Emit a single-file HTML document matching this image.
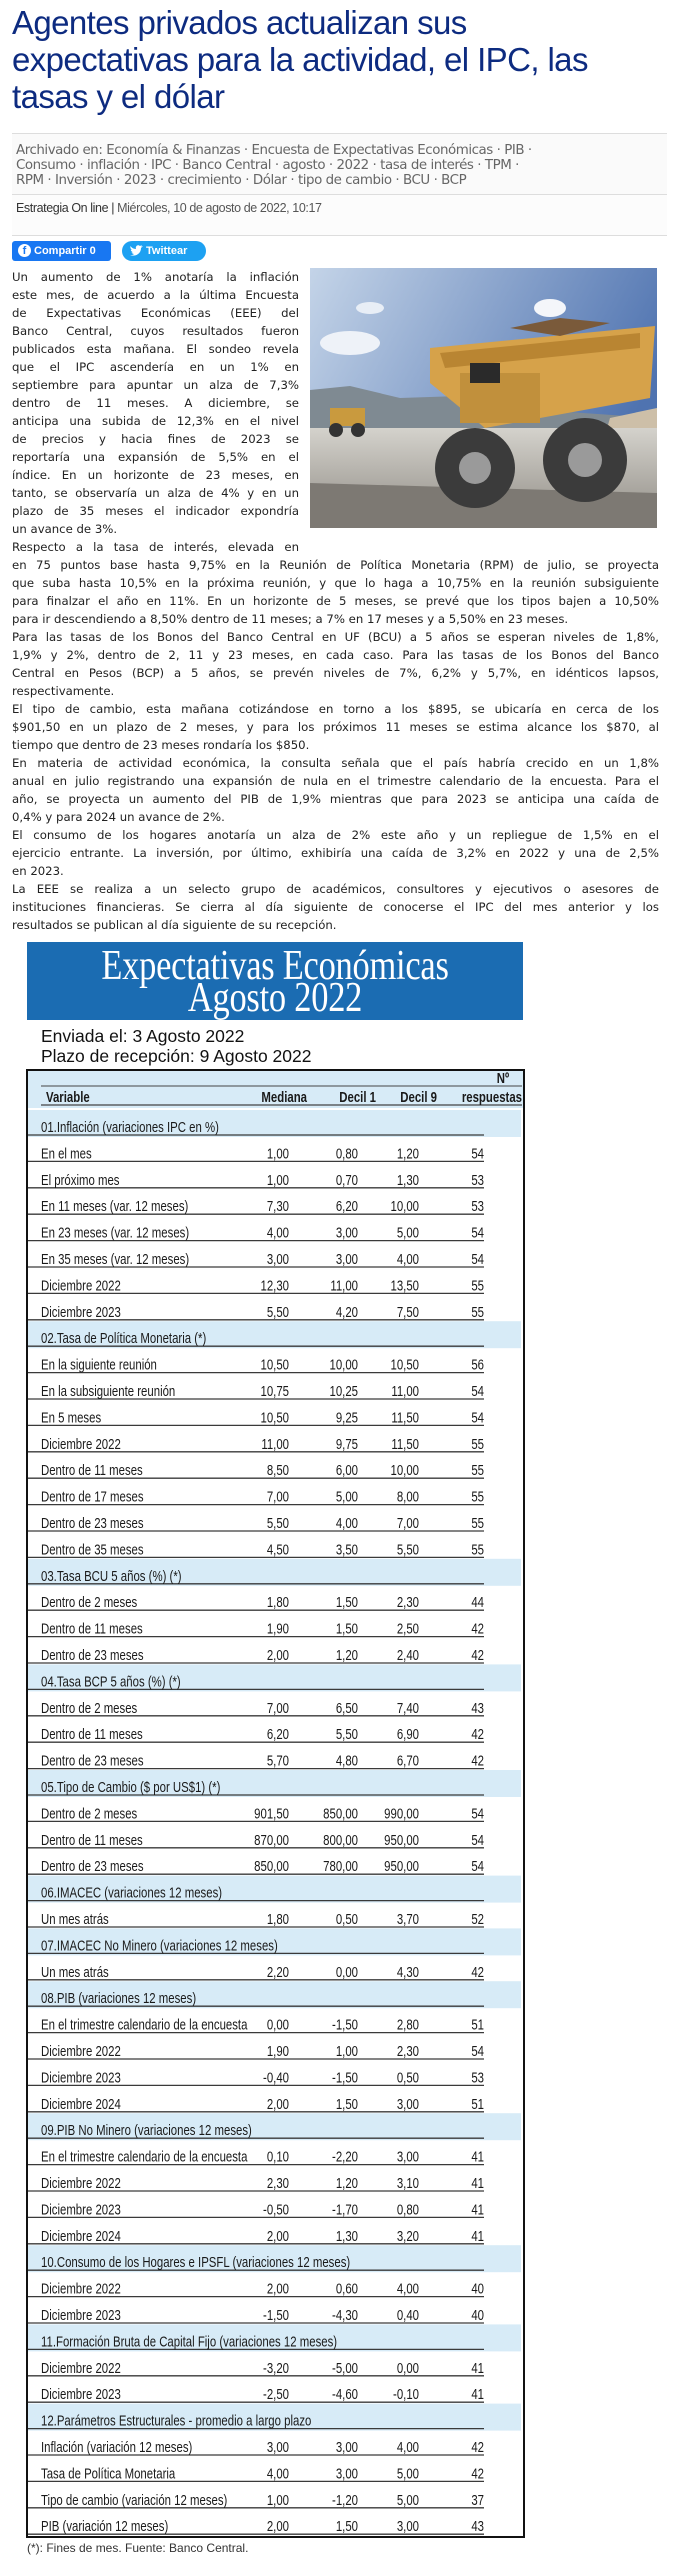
<!DOCTYPE html>
<html><head><meta charset="utf-8">
<style>
*{margin:0;padding:0;box-sizing:border-box}
body{width:679px;height:2569px;background:#fff;position:relative;overflow:hidden;font-family:"DejaVu Sans","Liberation Sans",sans-serif}
.abs{position:absolute}
#title{left:12px;top:4px;font-family:"Liberation Sans",sans-serif;font-size:33px;line-height:37px;color:#0d2b80;letter-spacing:-0.6px}
.hr{position:absolute;left:12px;width:655px;height:1px;background:#ddd}
#tags{left:12px;top:134px;width:655px;height:60px;background:#fafafa;padding:9px 4px;font-family:"DejaVu Sans",sans-serif;font-size:13.4px;line-height:15px;color:#666;letter-spacing:-0.45px}
#meta{left:12px;top:195px;width:655px;height:40px;background:#fcfcfc;padding:6px 4px;font-family:"Liberation Sans",sans-serif;font-size:12.5px;color:#555;letter-spacing:-0.4px}
#meta b{font-weight:normal;color:#333}
.btn{position:absolute;top:241px;height:20px;color:#fff;font-family:"Liberation Sans",sans-serif;font-weight:bold;font-size:11px;line-height:20px;padding-left:22px}
.ln{position:absolute;left:12px;height:18px;line-height:18px;font-size:11.7px;color:#222;text-align:justify;text-align-last:justify;white-space:normal;overflow:visible}
.ln.l{text-align-last:left}
#banner{left:27px;top:942px;width:496px;height:78px;background:#1b6cb2;color:#fff;overflow:hidden}
#banner div{position:absolute;left:0;width:496px;text-align:center;font-family:"Liberation Serif",serif;font-size:42px;line-height:36px;transform:scaleX(0.82);letter-spacing:-0.3px}
.sub{font-family:"Liberation Sans",sans-serif;font-size:17.5px;color:#111;left:41px}
</style></head><body>
<div id="title" class="abs">Agentes privados actualizan sus<br>expectativas para la actividad, el IPC, las<br>tasas y el dólar</div>
<div class="hr" style="top:133px"></div>
<div id="tags" class="abs">Archivado en: Economía &amp; Finanzas · Encuesta de Expectativas Económicas · PIB ·<br>Consumo · inflación · IPC · Banco Central · agosto · 2022 · tasa de interés · TPM ·<br>RPM · Inversión · 2023 · crecimiento · Dólar · tipo de cambio · BCU · BCP</div>
<div class="hr" style="top:194px"></div>
<div id="meta" class="abs"><b>Estrategia On line |</b> Miércoles, 10 de agosto de 2022, 10:17</div>
<div class="hr" style="top:235px"></div>
<div class="btn" style="left:12px;width:99px;background:#1877f2;border-radius:3px"><span style="position:absolute;left:6px;top:3px;width:13px;height:13px;border-radius:50%;background:#fff;color:#1877f2;font-size:11px;line-height:14px;text-align:center">f</span>Compartir 0</div>
<div class="btn" style="left:122px;width:84px;background:#1da1f2;border-radius:10px;padding-left:24px"><svg style="position:absolute;left:8px;top:4px" width="13" height="12" viewBox="0 0 13 12"><path d="M0 10 C5 12 11 9 11 3 L13 1 L11 1.5 L12 0 L10 1 C8 -1 5 1 6 4 C3 4 1 2 0.5 1 C0 3 1 4.5 2 5 L0.8 4.8 C1 6.5 2.5 7 3 7.3 L1.5 7.4 C2 8.5 3.5 9 4 9 C3 10 1.5 10.2 0 10Z" fill="#fff"/></svg>Twittear</div>

<svg class="abs" style="left:310px;top:268px" width="347" height="260">
<defs><linearGradient id="sky" x1="0" y1="0" x2="1" y2="0.4"><stop offset="0" stop-color="#c4d4e8"/><stop offset="1" stop-color="#4f73b0"/></linearGradient>
<linearGradient id="gr" x1="0" y1="0" x2="0" y2="1"><stop offset="0" stop-color="#d4d2cc"/><stop offset="1" stop-color="#8f8b84"/></linearGradient></defs>
<rect width="347" height="260" fill="url(#sky)"/>
<ellipse cx="40" cy="75" rx="30" ry="12" fill="#eef2f8"/><ellipse cx="240" cy="40" rx="16" ry="9" fill="#f4f6fa"/><ellipse cx="60" cy="40" rx="14" ry="6" fill="#e8eef6"/>
<path d="M0 122 L40 118 L90 130 L150 128 L200 140 L347 150 L347 170 L0 170Z" fill="#7f8a92"/>
<path d="M300 150 L347 140 L347 190 L290 185Z" fill="#cdbfa8"/>
<rect y="160" width="347" height="100" fill="url(#gr)"/>
<path d="M0 215 L347 225 L347 260 L0 260Z" fill="#7d7973"/>
<rect x="20" y="140" width="35" height="18" fill="#c99a3e"/><circle cx="26" cy="162" r="7" fill="#333"/><circle cx="48" cy="162" r="7" fill="#333"/>
<path d="M120 80 L345 58 L340 130 L175 160 L120 115Z" fill="#d6a24a"/>
<path d="M130 85 L330 65 L330 80 L135 100Z" fill="#b98532"/>
<path d="M200 60 L250 50 L300 55 L250 68Z" fill="#7a5a3a"/>
<rect x="150" y="105" width="80" height="50" fill="#c1903c"/>
<rect x="160" y="95" width="30" height="20" fill="#2a2a2a"/>
<circle cx="165" cy="200" r="40" fill="#3b3b3b"/><circle cx="165" cy="200" r="16" fill="#9a9a9a"/>
<circle cx="275" cy="192" r="42" fill="#3b3b3b"/><circle cx="275" cy="192" r="17" fill="#9a9a9a"/>
</svg>

<div id="article">
<div class="ln" style="top:268px;width:287px">Un aumento de 1% anotaría la inflación</div>
<div class="ln" style="top:286px;width:287px">este mes, de acuerdo a la última Encuesta</div>
<div class="ln" style="top:304px;width:287px">de Expectativas Económicas (EEE) del</div>
<div class="ln" style="top:322px;width:287px">Banco Central, cuyos resultados fueron</div>
<div class="ln" style="top:340px;width:287px">publicados esta mañana. El sondeo revela</div>
<div class="ln" style="top:358px;width:287px">que el IPC ascendería en un 1% en</div>
<div class="ln" style="top:376px;width:287px">septiembre para apuntar un alza de 7,3%</div>
<div class="ln" style="top:394px;width:287px">dentro de 11 meses. A diciembre, se</div>
<div class="ln" style="top:412px;width:287px">anticipa una subida de 12,3% en el nivel</div>
<div class="ln" style="top:430px;width:287px">de precios y hacia fines de 2023 se</div>
<div class="ln" style="top:448px;width:287px">reportaría una expansión de 5,5% en el</div>
<div class="ln" style="top:466px;width:287px">índice. En un horizonte de 23 meses, en</div>
<div class="ln" style="top:484px;width:287px">tanto, se observaría un alza de 4% y en un</div>
<div class="ln" style="top:502px;width:287px">plazo de 35 meses el indicador expondría</div>
<div class="ln l" style="top:520px;width:287px">un avance de 3%.</div>
<div class="ln" style="top:538px;width:287px">Respecto a la tasa de interés, elevada en</div>
<div class="ln" style="top:556px;width:647px">en 75 puntos base hasta 9,75% en la Reunión de Política Monetaria (RPM) de julio, se proyecta</div>
<div class="ln" style="top:574px;width:647px">que suba hasta 10,5% en la próxima reunión, y que lo haga a 10,75% en la reunión subsiguiente</div>
<div class="ln" style="top:592px;width:647px">para finalzar el año en 11%. En un horizonte de 5 meses, se prevé que los tipos bajen a 10,50%</div>
<div class="ln l" style="top:610px;width:647px">para ir descendiendo a 8,50% dentro de 11 meses; a 7% en 17 meses y a 5,50% en 23 meses.</div>
<div class="ln" style="top:628px;width:647px">Para las tasas de los Bonos del Banco Central en UF (BCU) a 5 años se esperan niveles de 1,8%,</div>
<div class="ln" style="top:646px;width:647px">1,9% y 2%, dentro de 2, 11 y 23 meses, en cada caso. Para las tasas de los Bonos del Banco</div>
<div class="ln" style="top:664px;width:647px">Central en Pesos (BCP) a 5 años, se prevén niveles de 7%, 6,2% y 5,7%, en idénticos lapsos,</div>
<div class="ln l" style="top:682px;width:647px">respectivamente.</div>
<div class="ln" style="top:700px;width:647px">El tipo de cambio, esta mañana cotizándose en torno a los $895, se ubicaría en cerca de los</div>
<div class="ln" style="top:718px;width:647px">$901,50 en un plazo de 2 meses, y para los próximos 11 meses se estima alcance los $870, al</div>
<div class="ln l" style="top:736px;width:647px">tiempo que dentro de 23 meses rondaría los $850.</div>
<div class="ln" style="top:754px;width:647px">En materia de actividad económica, la consulta señala que el país habría crecido en un 1,8%</div>
<div class="ln" style="top:772px;width:647px">anual en julio registrando una expansión de nula en el trimestre calendario de la encuesta. Para el</div>
<div class="ln" style="top:790px;width:647px">año, se proyecta un aumento del PIB de 1,9% mientras que para 2023 se anticipa una caída de</div>
<div class="ln l" style="top:808px;width:647px">0,4% y para 2024 un avance de 2%.</div>
<div class="ln" style="top:826px;width:647px">El consumo de los hogares anotaría un alza de 2% este año y un repliegue de 1,5% en el</div>
<div class="ln" style="top:844px;width:647px">ejercicio entrante. La inversión, por último, exhibiría una caída de 3,2% en 2022 y una de 2,5%</div>
<div class="ln l" style="top:862px;width:647px">en 2023.</div>
<div class="ln" style="top:880px;width:647px">La EEE se realiza a un selecto grupo de académicos, consultores y ejecutivos o asesores de</div>
<div class="ln" style="top:898px;width:647px">instituciones financieras. Se cierra al día siguiente de conocerse el IPC del mes anterior y los</div>
<div class="ln l" style="top:916px;width:647px">resultados se publican al día siguiente de su recepción.</div>
</div>

<div id="banner" class="abs"><div style="top:6px">Expectativas Económicas</div><div style="top:38px">Agosto 2022</div></div>
<div class="abs sub" style="top:1026px">Enviada el: 3 Agosto 2022</div>
<div class="abs sub" style="top:1046px">Plazo de recepción: 9 Agosto 2022</div>

<svg id="tbl" class="abs" style="left:0;top:0" width="679" height="2569"></svg>

<script>
const labels=["01.Inflación (variaciones IPC en %)","En el mes","El próximo mes","En 11 meses (var. 12 meses)","En 23 meses (var. 12 meses)","En 35 meses (var. 12 meses)","Diciembre 2022","Diciembre 2023",
"02.Tasa de Política Monetaria  (*)","En la siguiente reunión","En la subsiguiente reunión","En 5 meses","Diciembre 2022","Dentro de 11 meses","Dentro de 17 meses","Dentro de 23 meses","Dentro de 35 meses",
"03.Tasa BCU 5 años  (%)  (*)","Dentro de 2 meses","Dentro de 11 meses","Dentro de 23 meses",
"04.Tasa BCP 5 años  (%) (*)","Dentro de 2 meses","Dentro de 11 meses","Dentro de 23 meses",
"05.Tipo de Cambio  ($ por US$1) (*)","Dentro de 2 meses","Dentro de 11 meses","Dentro de 23 meses",
"06.IMACEC  (variaciones 12 meses)","Un mes atrás",
"07.IMACEC No Minero (variaciones 12 meses)","Un mes atrás",
"08.PIB  (variaciones 12 meses)","En el trimestre calendario de la encuesta","Diciembre 2022","Diciembre 2023","Diciembre 2024",
"09.PIB No Minero (variaciones 12 meses)","En el trimestre calendario de la encuesta","Diciembre 2022","Diciembre 2023","Diciembre 2024",
"10.Consumo de los Hogares e IPSFL  (variaciones 12 meses)","Diciembre 2022","Diciembre 2023",
"11.Formación Bruta de Capital Fijo  (variaciones 12 meses)","Diciembre 2022","Diciembre 2023",
"12.Parámetros Estructurales - promedio a largo plazo","Inflación (variación 12 meses)","Tasa de Política Monetaria","Tipo de cambio (variación 12 meses)","PIB (variación 12 meses)"];
const mediana=[null,"1,00","1,00","7,30","4,00","3,00","12,30","5,50",
null,"10,50","10,75","10,50","11,00","8,50","7,00","5,50","4,50",
null,"1,80","1,90","2,00",null,"7,00","6,20","5,70",null,"901,50","870,00","850,00",
null,"1,80",null,"2,20",null,"0,00","1,90","-0,40","2,00",null,"0,10","2,30","-0,50","2,00",
null,"2,00","-1,50",null,"-3,20","-2,50",null,"3,00","4,00","1,00","2,00"];
const decil1=[null,"0,80","0,70","6,20","3,00","3,00","11,00","4,20",
null,"10,00","10,25","9,25","9,75","6,00","5,00","4,00","3,50",
null,"1,50","1,50","1,20",null,"6,50","5,50","4,80",null,"850,00","800,00","780,00",
null,"0,50",null,"0,00",null,"-1,50","1,00","-1,50","1,50",null,"-2,20","1,20","-1,70","1,30",
null,"0,60","-4,30",null,"-5,00","-4,60",null,"3,00","3,00","-1,20","1,50"];
const decil9=[null,"1,20","1,30","10,00","5,00","4,00","13,50","7,50",
null,"10,50","11,00","11,50","11,50","10,00","8,00","7,00","5,50",
null,"2,30","2,50","2,40",null,"7,40","6,90","6,70",null,"990,00","950,00","950,00",
null,"3,70",null,"4,30",null,"2,80","2,30","0,50","3,00",null,"3,00","3,10","0,80","3,20",
null,"4,00","0,40",null,"0,00","-0,10",null,"4,00","5,00","5,00","3,00"];
const respuestas=[null,54,53,53,54,54,55,55,null,56,54,54,55,55,55,55,55,null,44,42,42,null,43,42,42,null,54,54,54,
null,52,null,42,null,51,54,53,51,null,41,41,41,41,null,40,40,null,41,41,null,42,42,37,43];

const NS="http://www.w3.org/2000/svg";
const svg=document.getElementById('tbl');
const FONT='"Liberation Sans",sans-serif';
const SX=0.76;
const top0=1070,bottom=2537,left=27,right=524,first=1135,pitch=26.4;
const rowY=i=>first+i*pitch;
const colX={med:289,d1:358,d9:419,n:484};
function mk(tag,attrs){const e=document.createElementNS(NS,tag);for(const k in attrs)e.setAttribute(k,attrs[k]);svg.appendChild(e);return e;}
function txt(x,y,s,anchor,bold,size){const t=mk('text',{x:0,y:0,transform:'translate('+x+','+y+') scale('+SX+',1)','text-anchor':anchor,'font-family':FONT,'font-size':size||14,'fill':'#1a1a1a','font-weight':bold?'bold':'normal'});t.textContent=s;return t;}
const hb=mk('rect',{x:left,y:top0,width:right-left,height:38,fill:'#d7ebf7'});


const hl1=mk('line',{x1:41,x2:522,y1:1086,y2:1086,stroke:'#444','stroke-width':1});


const hl2=mk('line',{x1:41,x2:522,y1:1105,y2:1105,stroke:'#444','stroke-width':1.3});


const heads=[["Variable",46,'start'],["Mediana",307,'end'],["Decil 1",376,'end'],["Decil 9",437,'end'],["respuestas",522,'end']];
heads.forEach(h=>{const t=txt(h[1],1102,h[0],h[2],true,15);

});
const nt=txt(503,1083,"Nº",'middle',true,15);


labels.forEach((lab,i)=>{
  const y=rowY(i);const isSec=mediana[i]===null;
  if(isSec){const b=mk('rect',{x:28,y:y-25,width:493,height:27,fill:'#d7ebf7'});
    
    }
  const l=mk('line',{x1:28,x2:484,y1:y,y2:y,stroke:'#3a3a3a','stroke-width':1.3});
  
  
  const t=txt(41,y-3,lab,'start',false,15);
  
  
  if(!isSec){
    [[mediana[i],colX.med,'median-value'],[decil1[i],colX.d1,'decile1-value'],[decil9[i],colX.d9,'decile9-value'],[String(respuestas[i]),colX.n,'responses-value']].forEach(c=>{
      const v=txt(c[1],y-3,c[0],'end',false,15);
      
      
    });
  }
});
const border=mk('rect',{x:left,y:top0,width:right-left,height:bottom-top0,fill:'none',stroke:'#111','stroke-width':2});


const fn=mk('text',{x:27,y:2552,'font-family':'"Liberation Sans",sans-serif','font-size':12,fill:'#333'});
fn.textContent="(*): Fines de mes. Fuente: Banco Central.";


</script>
</body></html>
